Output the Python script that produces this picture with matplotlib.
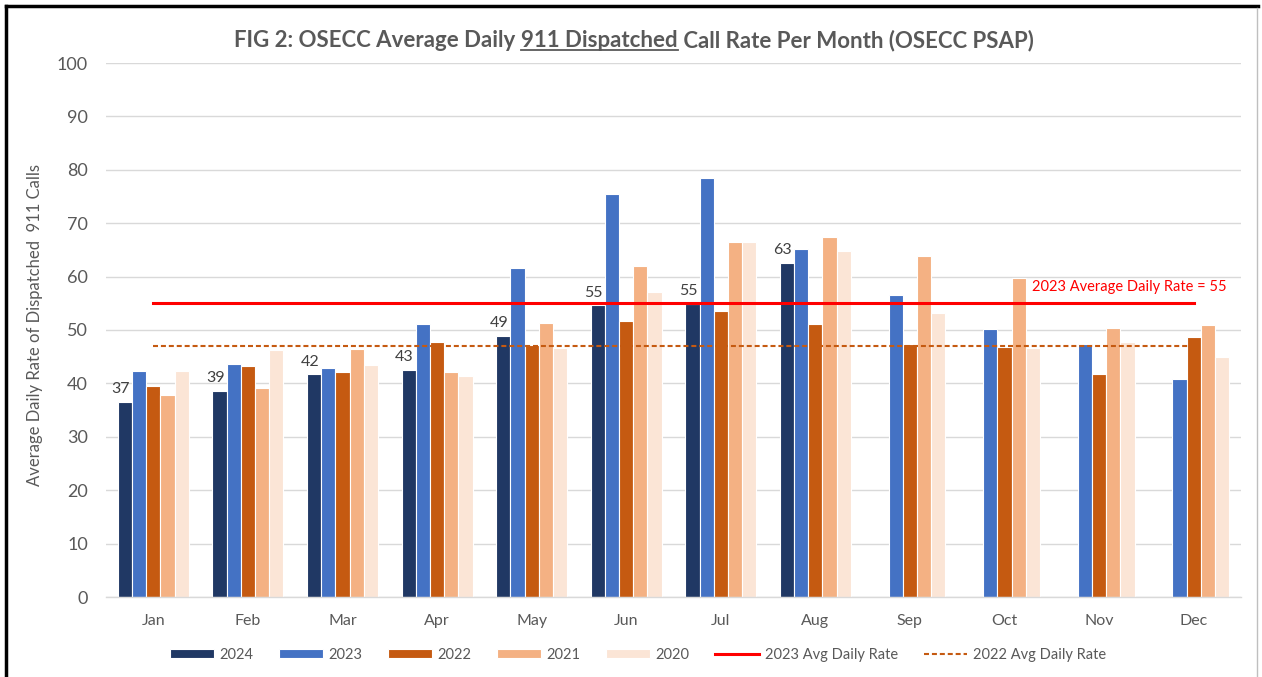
import numpy as np
import matplotlib
matplotlib.use('Agg')
import matplotlib.pyplot as plt
from matplotlib.lines import Line2D

months = ["Jan", "Feb", "Mar", "Apr", "May", "Jun", "Jul", "Aug", "Sep", "Oct", "Nov", "Dec"]
years = ["2024", "2023", "2022", "2021", "2020"]

v2024 = [36.6, 38.6, 41.7, 42.6, 48.9, 54.6, 54.9, 62.6, np.nan, np.nan, np.nan, np.nan]
v2023 = [42.4, 43.6, 42.9, 51.1, 61.7, 75.5, 78.4, 65.1, 56.6, 50.1, 47.3, 40.8]
v2022 = [39.5, 43.3, 42.2, 47.7, 47.2, 51.6, 53.5, 51.1, 47.3, 46.9, 41.8, 48.7]
v2021 = [37.9, 39.1, 46.4, 42.1, 51.3, 62.0, 66.5, 67.4, 63.9, 59.8, 50.4, 50.9]
v2020 = [42.4, 46.3, 43.5, 41.4, 46.7, 57.2, 66.5, 64.8, 53.2, 46.7, 47.8, 44.9]

avg_2023 = [55] * 12
avg_2022 = [47] * 12

colors = ["#203864", "#4472C4", "#C55A11", "#F4B183", "#FBE5D6"]
grey = "#595959"
fam = ["Lato", "DejaVu Sans"]
plt.rcParams['font.family'] = fam

W, H = 1262, 677
fig = plt.figure(figsize=(W / 100, H / 100), dpi=100)
ax = fig.add_axes([106 / W, 1 - 597 / H, (1241 - 106) / W, (597 - 63) / H])

x = np.arange(len(months))
bw = 0.15
series = [v2024, v2023, v2022, v2021, v2020]
for i, (vals, c, yr) in enumerate(zip(series, colors, years)):
    ax.bar(x + (i - 2) * bw, vals, bw, color=c, edgecolor="white", linewidth=0.8,
           label=yr, zorder=2)

# data labels for 2024
for xi, v in zip(x, v2024):
    if np.isnan(v):
        continue
    ax.annotate(f"{v:.0f}", (xi - 2 * bw, v), xytext=(-3, 4), textcoords="offset points",
                ha="center", va="bottom", fontsize=11.5, color="#404040")

ax.plot(x, avg_2023, color="#FF0000", lw=2.2, label="2023 Avg Daily Rate", zorder=3)
ax.plot(x, avg_2022, color="#C55A11", lw=1.5, ls=(0, (2.4, 1.4)),
        label="2022 Avg Daily Rate", zorder=3)
ax.text(9.29, 58, "2023 Average Daily Rate = 55", color="#FF0000", fontsize=10.5,
        va="center", ha="left", zorder=4)

ax.set_xlim(-0.5, 11.5)
ax.set_ylim(0, 100)
ax.set_yticks(range(0, 101, 10))
ax.set_xticks(x)
ax.set_xticklabels(months)
ax.tick_params(axis="y", length=0, pad=13, labelsize=13, labelcolor=grey)
ax.tick_params(axis="x", length=0, pad=12, labelsize=11.5, labelcolor=grey)
ax.grid(axis="y", color="#D9D9D9", lw=1, zorder=0)
ax.set_axisbelow(True)
for s in ["top", "right", "left"]:
    ax.spines[s].set_visible(False)
ax.spines["bottom"].set_color("#D9D9D9")
ax.spines["bottom"].set_linewidth(1)

fig.text(35 / W, 1 - 325 / H, "Average Daily Rate of Dispatched  911 Calls", rotation=90,
         ha="center", va="center", fontsize=12, color=grey)

# legend
handles, labels = ax.get_legend_handles_labels()
order = [2, 3, 4, 5, 6, 0, 1]
fig.legend([handles[i] for i in order], [labels[i] for i in order], loc="center",
           bbox_to_anchor=(638 / W, 1 - 655 / H), ncol=7, frameon=False, fontsize=10.5,
           handlelength=3.0, handleheight=0.55, columnspacing=1.75, handletextpad=0.4,
           labelcolor=grey)

# title with underlined part
parts = ["FIG 2: OSECC Average Daily ", "911 Dispatched", " Call Rate Per Month (OSECC PSAP)"]
fig.canvas.draw()
r = fig.canvas.get_renderer()
tobjs = [fig.text(0, 0, p, fontsize=16, fontweight="bold", color=grey, va="baseline")
         for p in parts]
widths = [t.get_window_extent(r).width for t in tobjs]
total = sum(widths)
x0 = 634 - total / 2
base = H - 47
for t, w in zip(tobjs, widths):
    t.set_position((x0 / W, base / H))
    x0 += w
ux0 = (634 - total / 2 + widths[0]) / W
ux1 = (634 - total / 2 + widths[0] + widths[1]) / W
fig.add_artist(Line2D([ux0, ux1], [(base - 3) / H] * 2, color=grey, lw=1.3))

# chart border
fig.add_artist(Line2D([6 / W, 6 / W], [0, 1 - 6 / H], color="black", lw=2.5))
fig.add_artist(Line2D([6 / W, 1258 / W], [1 - 6 / H, 1 - 6 / H], color="black", lw=2.5))
fig.add_artist(Line2D([1257 / W, 1257 / W], [0, 1 - 8 / H], color="#BFBFBF", lw=1))

fig.savefig("out.png", dpi=100)
